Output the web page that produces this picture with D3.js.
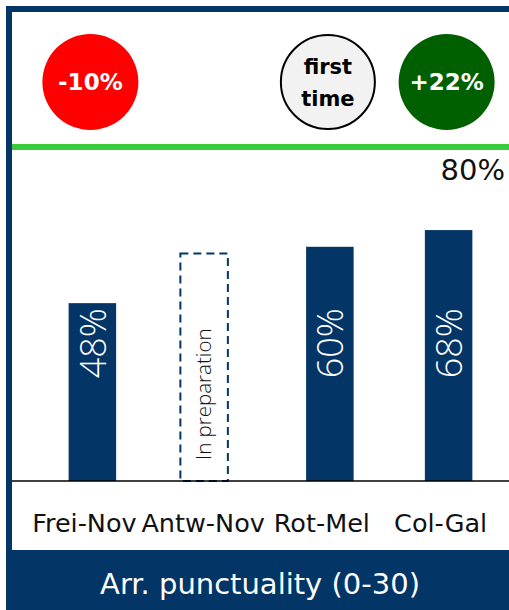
<!DOCTYPE html>
<html>
<head>
<meta charset="utf-8">
<script src="https://cdn.jsdelivr.net/npm/d3@7"></script>
<style>
  body { margin: 0; background: #fff; overflow: hidden; }
  svg { display: block; }
</style>
</head>
<body>
<div id="chart"></div>
<script>
// route pairs on the x axis
var categories = ["Frei-Nov", "Antw-Nov", "Rot-Mel", "Col-Gal"];
// bar heights as drawn, read against the 80% target line
var barLevels = [42.6, 54.5, 56.1, 60.1];
// labels printed inside the bars (null = in preparation)
var barLabels = ["48%", null, "60%", "68%"];
var pending = [false, true, false, false];
var target = 80;
// badges above the bars
var badgeCats = ["Frei-Nov", "Rot-Mel", "Col-Gal"];
var badgeText = [["-10%"], ["first", "time"], ["+22%"]];
var badgeKind = ["down", "new", "up"];
var footerTitle = "Arr. punctuality (0-30)";

var svgWidth = 509,
    svgHeight = 610;
var navy = "#033567";

var svg = d3.select("#chart")
    .append("svg")
    .attr("width", svgWidth)
    .attr("height", svgHeight);

var x = d3.scaleBand()
    .domain(categories)
    .range([33, 508])
    .paddingInner(0.6)
    .paddingOuter(0.3);

var y = d3.scaleLinear()
    .domain([0, target])
    .range([481, 147]);

// frame (top + left)
svg.append("line")
    .attr("x1", 6).attr("x2", svgWidth)
    .attr("y1", 9).attr("y2", 9)
    .attr("stroke", navy).attr("stroke-width", 6);
svg.append("line")
    .attr("x1", 9).attr("x2", 9)
    .attr("y1", 6).attr("y2", svgHeight)
    .attr("stroke", navy).attr("stroke-width", 6);

// target line
svg.append("line")
    .attr("x1", 12).attr("x2", svgWidth)
    .attr("y1", y(target)).attr("y2", y(target))
    .attr("stroke", "#3acb3a").attr("stroke-width", 6);

svg.append("text")
    .attr("x", 505)
    .attr("y", y(target) + 33)
    .attr("text-anchor", "end")
    .attr("font-family", "DejaVu Sans, sans-serif")
    .attr("font-size", 29)
    .attr("fill", "#111")
    .text(target + "%");

var rows = categories.map(function (c, i) {
    return { cat: c, level: barLevels[i], label: barLabels[i], pending: pending[i] };
});

// bars
svg.selectAll(".bar")
    .data(rows.filter(d => !d.pending))
    .enter()
    .append("rect")
    .attr("class", "bar")
    .attr("x", d => x(d.cat))
    .attr("y", d => y(d.level))
    .attr("width", x.bandwidth())
    .attr("height", d => y(0) - y(d.level))
    .attr("fill", navy);

// dashed placeholder
svg.selectAll(".pending")
    .data(rows.filter(d => d.pending))
    .enter()
    .append("rect")
    .attr("class", "pending")
    .attr("x", d => x(d.cat) - 7)
    .attr("y", d => y(d.level))
    .attr("width", x.bandwidth())
    .attr("height", d => y(0) - y(d.level))
    .attr("fill", "none")
    .attr("stroke", navy)
    .attr("stroke-width", 2)
    .attr("stroke-dasharray", "8,5");

svg.selectAll(".pendingLabel")
    .data(rows.filter(d => d.pending))
    .enter()
    .append("text")
    .attr("transform", d => `translate(${x(d.cat) + x.bandwidth() / 2 - 8},${y(0) - 21}) rotate(-90)`)
    .attr("dominant-baseline", "central")
    .attr("font-family", "Open Sans, sans-serif")
    .attr("font-weight", 300)
    .attr("font-size", 20.5)
    .attr("fill", "#111")
    .text("In  preparation");

// value labels inside bars
svg.selectAll(".barLabel")
    .data(rows.filter(d => d.label))
    .enter()
    .append("text")
    .attr("transform", d => `translate(${x(d.cat) + x.bandwidth() / 2},${y(33)}) rotate(-90)`)
    .attr("text-anchor", "middle")
    .attr("dominant-baseline", "central")
    .attr("font-family", "Open Sans, sans-serif")
    .attr("font-weight", 300)
    .attr("font-size", 36)
    .attr("fill", "#fff")
    .text(d => d.label);

// baseline
svg.append("line")
    .attr("x1", 12).attr("x2", svgWidth)
    .attr("y1", y(0)).attr("y2", y(0))
    .attr("stroke", "#000").attr("stroke-width", 1.5);

// category labels
var xAxis = d3.axisBottom(x).tickSize(0).tickPadding(0);
var gx = svg.append("g")
    .attr("transform", `translate(-8,${y(0)})`)
    .call(xAxis);
gx.select(".domain").remove();
gx.selectAll("text")
    .attr("y", 51)
    .attr("dy", 0)
    .attr("font-family", "DejaVu Sans, sans-serif")
    .attr("font-size", 25.5)
    .attr("fill", "#111");

// badges
var badgeFill = { down: "#ff0000", up: "#006000", new: "#f2f2f2" };
var badges = svg.selectAll(".badge")
    .data(badgeCats.map((c, i) => ({ cat: c, text: badgeText[i], kind: badgeKind[i] })))
    .enter()
    .append("g")
    .attr("class", "badge")
    .attr("transform", d => `translate(${x(d.cat) + x.bandwidth() / 2 - 2},82)`);

badges.append("circle")
    .attr("r", d => d.kind === "new" ? 47 : 48)
    .attr("fill", d => badgeFill[d.kind])
    .attr("stroke", d => d.kind === "new" ? "#000" : "none")
    .attr("stroke-width", 2);

badges.each(function (d) {
    var g = d3.select(this);
    var n = d.text.length;
    d.text.forEach(function (t, j) {
        g.append("text")
            .attr("y", (j - (n - 1) / 2) * 32 + 8)
            .attr("text-anchor", "middle")
            .attr("font-family", "DejaVu Sans, sans-serif")
            .attr("font-weight", "bold")
            .attr("font-size", d.kind === "new" ? 21 : 23)
            .attr("fill", d.kind === "new" ? "#000" : "#fff")
            .text(t);
    });
});

// footer band
svg.append("rect")
    .attr("x", 6)
    .attr("y", 550)
    .attr("width", svgWidth - 6)
    .attr("height", svgHeight - 550)
    .attr("fill", navy);

svg.append("text")
    .attr("x", 260)
    .attr("y", 594)
    .attr("text-anchor", "middle")
    .attr("font-family", "DejaVu Sans, sans-serif")
    .attr("font-size", 29)
    .attr("fill", "#fff")
    .text(footerTitle);
</script>
</body>
</html>
